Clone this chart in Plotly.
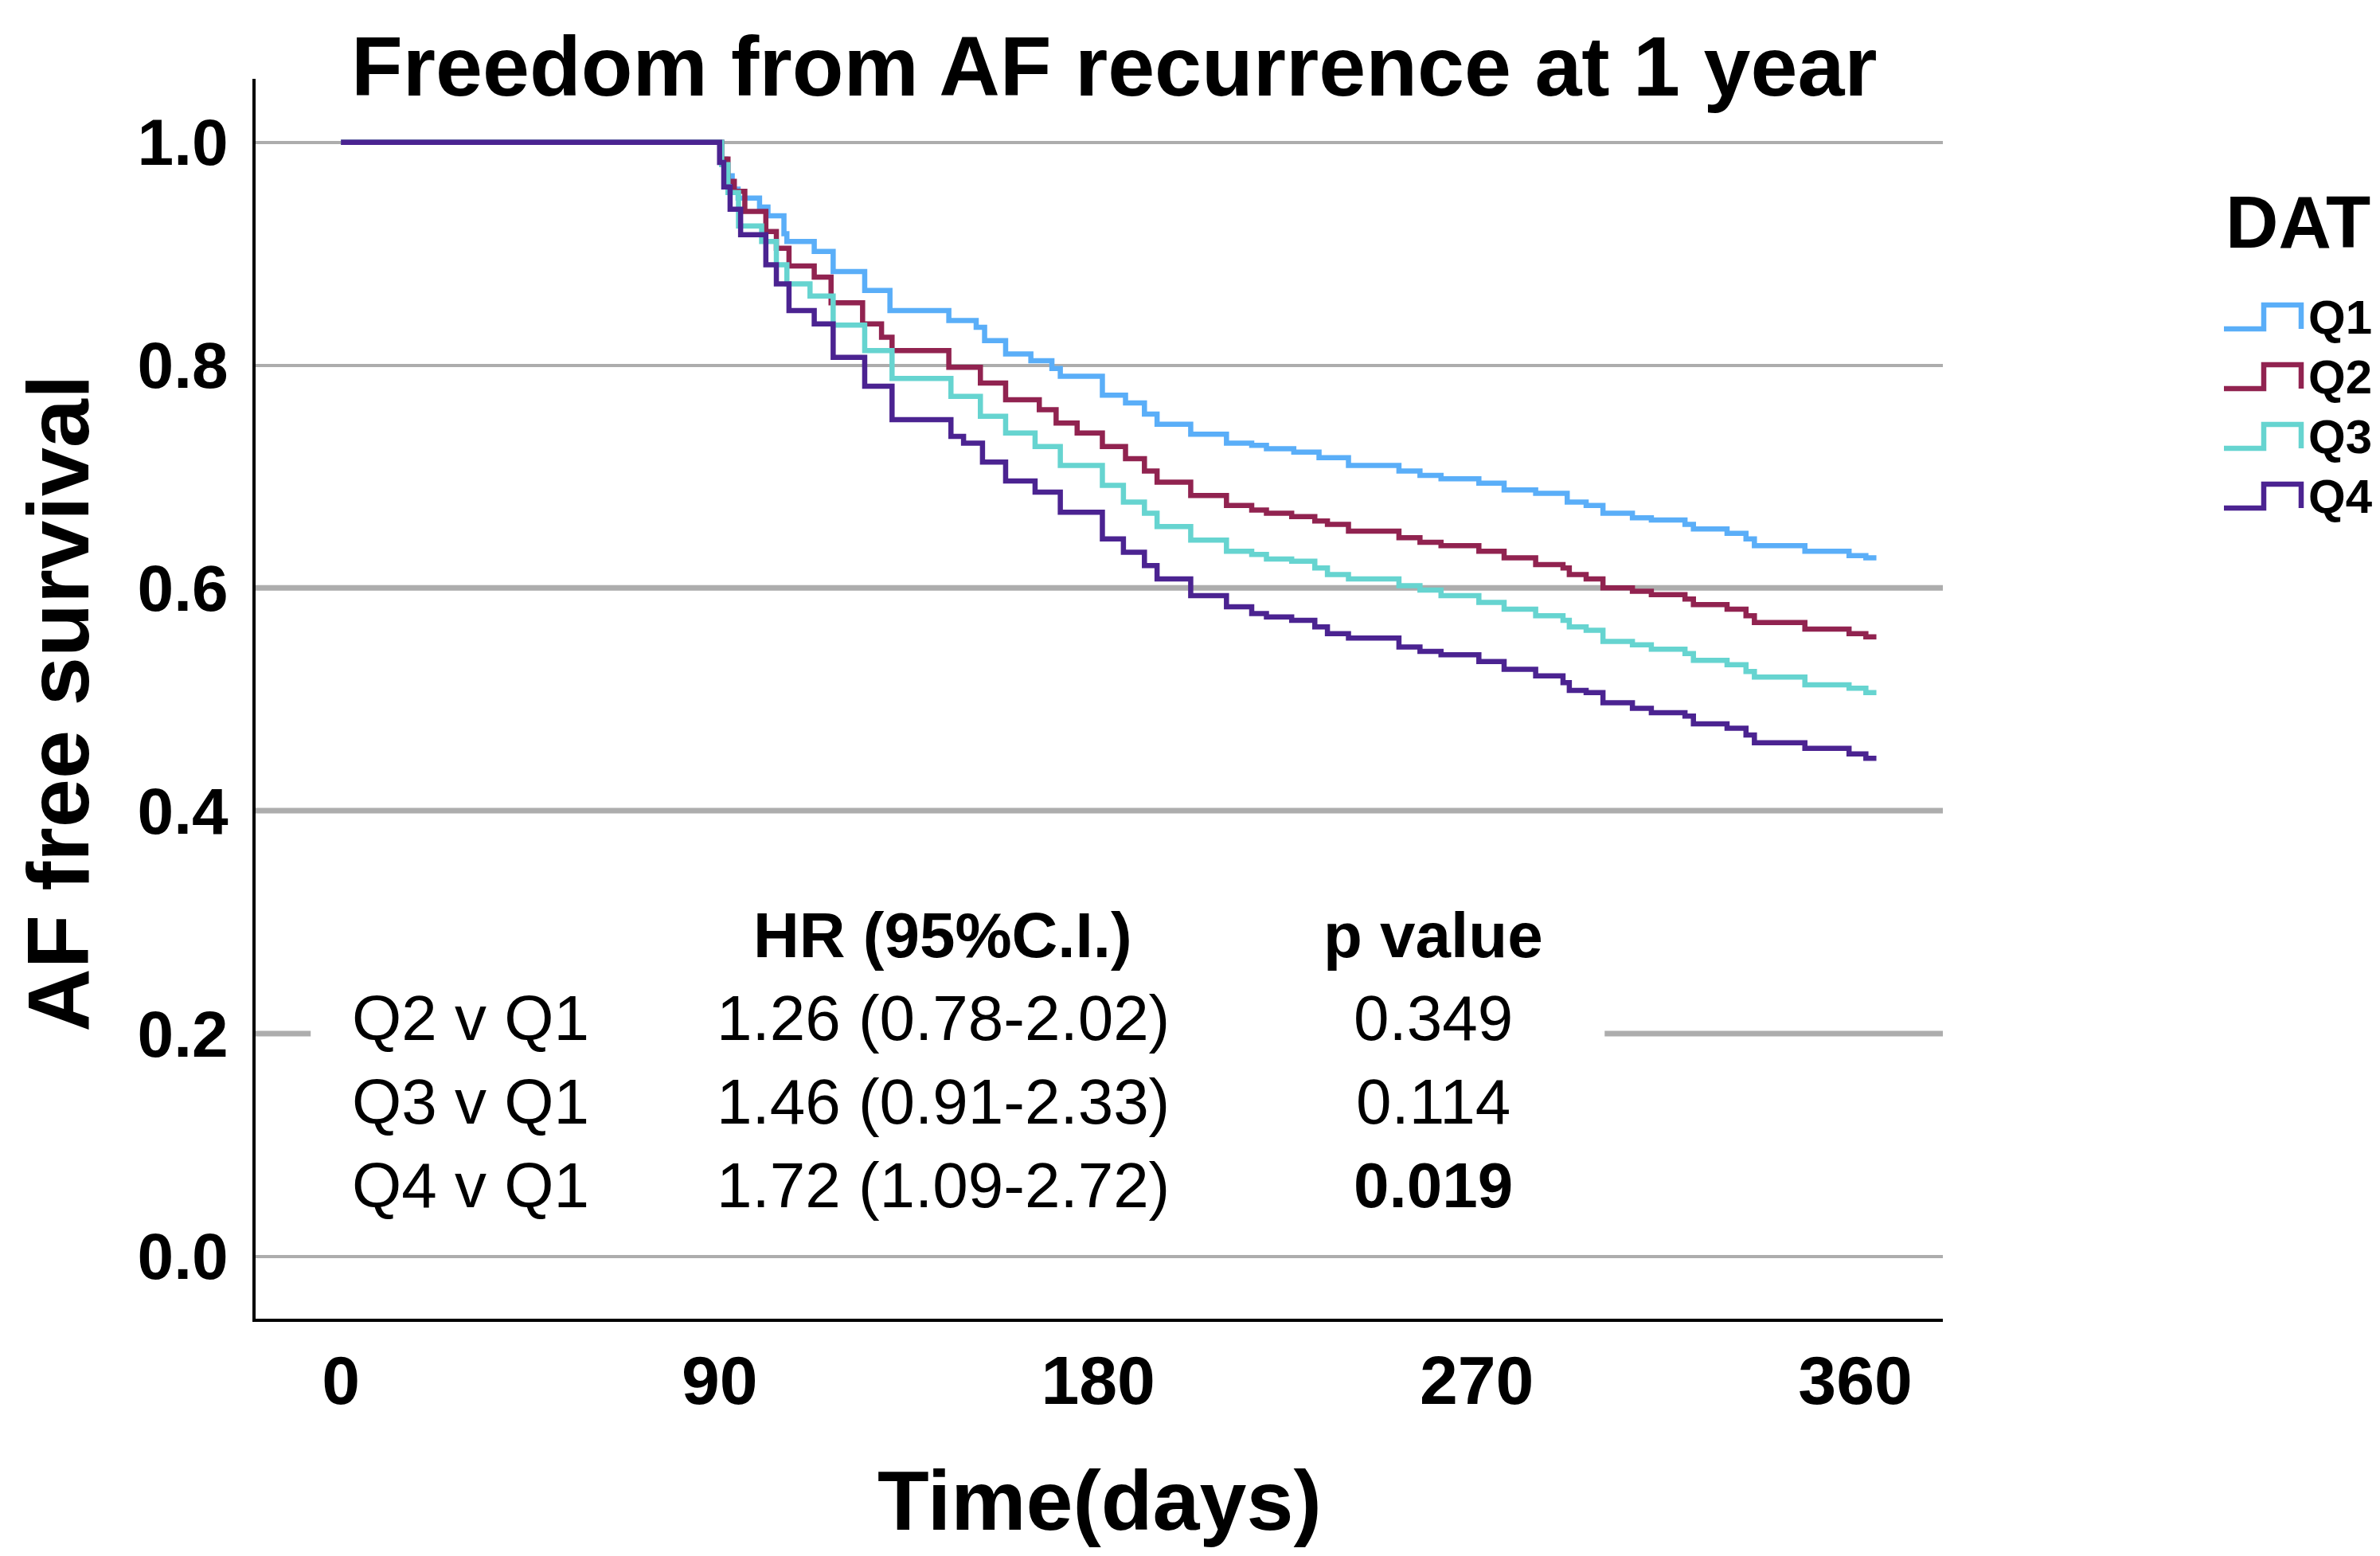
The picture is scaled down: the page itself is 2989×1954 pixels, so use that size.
import plotly.graph_objects as go

# ---------------- data ----------------
groups = ["Q1", "Q2", "Q3", "Q4"]
colors = ["#5AAEF8", "#912350", "#66D4D0", "#4B2391"]

q1_days = [0, 90.5, 91.5, 93, 94.4, 99.5, 101.5, 105.3, 106, 112.5, 117, 124.5, 130.5, 144.5, 151,
           153, 158, 164, 169, 171, 181, 186.5, 191, 194, 202, 210.5, 216.5, 220, 226.5, 232.5,
           239.5, 251.5, 256.5, 261.5, 270.5, 276.5, 284, 291.5, 296, 300, 307, 311.5, 319.5, 321.5,
           329.5, 334, 336, 348, 358.5, 362.5, 365]
q1_surv = [1.0, 0.985, 0.97, 0.958, 0.950, 0.942, 0.934, 0.918, 0.911, 0.902, 0.884, 0.867, 0.849, 0.840, 0.834,
           0.822, 0.810, 0.804, 0.797, 0.790, 0.773, 0.766, 0.756, 0.747, 0.738, 0.730, 0.728, 0.725, 0.722, 0.717,
           0.710, 0.705, 0.701, 0.698, 0.694, 0.688, 0.685, 0.677, 0.674, 0.667, 0.663, 0.661, 0.657, 0.653,
           0.649, 0.644, 0.638, 0.633, 0.629, 0.627, 0.627]

q2_days = [0, 90.5, 92, 93.5, 96, 101, 103.5, 106.5, 112.5, 116.5, 124, 128.5, 131, 144.5, 152,
           158, 166, 170, 175, 181, 186.5, 191, 194, 202, 210.5, 216.5, 220, 226, 231.5, 234.5,
           239.5, 251.5, 256.5, 261.5, 270.5, 276.5, 284, 290.5, 292, 296, 300, 307, 311.5, 319.5, 321.5,
           329.5, 334, 336, 348, 358.5, 362.5, 365]
q2_surv = [1.0, 0.985, 0.965, 0.956, 0.938, 0.92, 0.905, 0.889, 0.879, 0.856, 0.837, 0.825, 0.813, 0.798, 0.784,
           0.769, 0.760, 0.748, 0.739, 0.727, 0.716, 0.705, 0.695, 0.683, 0.674, 0.670, 0.667, 0.664, 0.660, 0.657,
           0.651, 0.645, 0.641, 0.638, 0.633, 0.627, 0.621, 0.618, 0.612, 0.608, 0.600, 0.597, 0.594, 0.590, 0.585,
           0.581, 0.575, 0.569, 0.563, 0.559, 0.556, 0.556]

q3_days = [0, 90.5, 92, 94.5, 100, 103.5, 106, 111.5, 117, 124.5, 131, 145, 152, 158, 165,
           171, 181, 186, 191, 194, 202, 210.5, 216.5, 220, 226, 231.5, 234.5, 239.5, 251.5, 256.5,
           261.5, 270.5, 276.5, 284, 290.5, 292, 296, 300, 307, 311.5, 319.5, 321.5, 329.5, 334, 336,
           348, 358.5, 362.5, 365]
q3_surv = [1.0, 0.98, 0.955, 0.925, 0.911, 0.89, 0.873, 0.862, 0.836, 0.813, 0.788, 0.772, 0.754, 0.739, 0.727,
           0.71, 0.692, 0.677, 0.667, 0.655, 0.643, 0.633, 0.630, 0.626, 0.624, 0.618, 0.612, 0.608, 0.602, 0.598,
           0.593, 0.587, 0.581, 0.575, 0.571, 0.565, 0.562, 0.552, 0.549, 0.545, 0.541, 0.535, 0.531, 0.525, 0.520,
           0.513, 0.510, 0.506, 0.506]

q4_days = [0, 90, 91, 92.5, 95, 101, 103.5, 106.5, 112.5, 117, 124.5, 131, 145, 148, 152.5,
           158, 165, 171, 181, 186, 191, 194, 202, 210.5, 216.5, 220, 226, 231.5, 234.5, 239.5,
           251.5, 256.5, 261.5, 270.5, 276.5, 284, 290.5, 292, 296, 300, 307, 311.5, 319.5, 321.5, 329.5,
           334, 336, 348, 358.5, 362.5, 365]
q4_surv = [1.0, 0.982, 0.96, 0.94, 0.917, 0.89, 0.873, 0.849, 0.837, 0.807, 0.781, 0.751, 0.736, 0.730, 0.713,
           0.696, 0.686, 0.668, 0.644, 0.632, 0.620, 0.608, 0.593, 0.583, 0.577, 0.574, 0.571, 0.565, 0.559, 0.555,
           0.547, 0.543, 0.540, 0.534, 0.527, 0.521, 0.515, 0.508, 0.506, 0.497, 0.492, 0.488, 0.485, 0.478, 0.474,
           0.468, 0.461, 0.456, 0.451, 0.447, 0.447]

x_ticks = [0, 90, 180, 270, 360]
y_ticks = [0.0, 0.2, 0.4, 0.6, 0.8, 1.0]
y_tick_labels = ["0.0", "0.2", "0.4", "0.6", "0.8", "1.0"]
thick_grid = [0.2, 0.4, 0.6]

table_header = ["HR (95%C.I.)", "p value"]
comparisons = ["Q2 v Q1", "Q3 v Q1", "Q4 v Q1"]
hazard_ratios = ["1.26 (0.78-2.02)", "1.46 (0.91-2.33)", "1.72 (1.09-2.72)"]
p_values = ["0.349", "0.114", "0.019"]
p_bold = [False, False, True]

title_text = "Freedom from AF recurrence at 1 year"
x_title = "Time(days)"
y_title = "AF free survival"
legend_title = "DAT"

# ---------------- figure ----------------
FONT = "Liberation Sans, Arial, sans-serif"
W, H = 2989, 1954
ML, MR, MT, MB = 321, 549, 99, 298
PW, PH = W - ML - MR, H - MT - MB


def px_to_paper_x(px):
    return (px - ML) / PW


def px_to_paper_y(py):
    return (H - MB - py) / PH


series_days = [q1_days, q2_days, q3_days, q4_days]
series_surv = [q1_surv, q2_surv, q3_surv, q4_surv]

fig = go.Figure()
for name, col, d, s in zip(groups, colors, series_days, series_surv):
    fig.add_trace(go.Scatter(
        x=d, y=s, mode="lines", name=name, showlegend=False,
        line=dict(color=col, width=6.5, shape="hv"),
    ))

GRID = "#ADADAD"
shapes = []
for g in thick_grid:
    shapes.append(dict(type="line", xref="paper", yref="y", x0=0, x1=1, y0=g, y1=g,
                       line=dict(color=GRID, width=7), layer="between"))
# white box behind the table text
shapes.append(dict(type="rect", xref="x", yref="y", x0=-7.2, x1=300.4, y0=0.03, y1=0.35,
                   fillcolor="white", line=dict(width=0), layer="between"))

annotations = []
# title
annotations.append(dict(text=f"<b>{title_text}</b>", xref="paper", yref="paper", x=0.509, y=1.01,
                        xanchor="center", yanchor="middle", showarrow=False,
                        font=dict(family=FONT, size=106, color="black")))
# axis titles
annotations.append(dict(text=f"<b>{x_title}</b>", xref="paper", yref="paper", x=0.5, y=-0.1464,
                        xanchor="center", yanchor="middle", showarrow=False,
                        font=dict(family=FONT, size=106, color="black")))
annotations.append(dict(text=f"<b>{y_title}</b>", xref="paper", yref="paper", x=-0.117, y=0.496,
                        xanchor="center", yanchor="middle", showarrow=False, textangle=-90,
                        font=dict(family=FONT, size=110, color="black")))

# table
col_label_x, col_hr_x, col_p_x = 2.3, 143.1, 259.7
header_y = 0.288
row_y = [0.214, 0.139, 0.064]
tfont = dict(family=FONT, size=80, color="black")
annotations.append(dict(text=f"<b>{table_header[0]}</b>", x=col_hr_x, y=header_y, xref="x", yref="y",
                        xanchor="center", yanchor="middle", showarrow=False, font=tfont))
annotations.append(dict(text=f"<b>{table_header[1]}</b>", x=col_p_x, y=header_y, xref="x", yref="y",
                        xanchor="center", yanchor="middle", showarrow=False, font=tfont))
for lab, hr, pv, pb, yy in zip(comparisons, hazard_ratios, p_values, p_bold, row_y):
    annotations.append(dict(text=lab, x=col_label_x, y=yy, xref="x", yref="y",
                            xanchor="left", yanchor="middle", showarrow=False, font=tfont))
    annotations.append(dict(text=hr, x=col_hr_x, y=yy, xref="x", yref="y",
                            xanchor="center", yanchor="middle", showarrow=False, font=tfont))
    annotations.append(dict(text=(f"<b>{pv}</b>" if pb else pv), x=col_p_x, y=yy, xref="x", yref="y",
                            xanchor="center", yanchor="middle", showarrow=False, font=tfont))

# legend (step-shaped keys like the SPSS survival legend)
LEG_ICON_X0, LEG_ICON_XM, LEG_ICON_X1 = 2793, 2843, 2890
LEG_TEXT_X = 2897
LEG_FIRST_Y, LEG_STEP, LEG_HALF = 398, 75, 15
annotations.append(dict(text=f"<b>{legend_title}</b>", xref="paper", yref="paper",
                        x=px_to_paper_x(2793), y=px_to_paper_y(279),
                        xanchor="left", yanchor="middle", showarrow=False,
                        font=dict(family=FONT, size=92, color="black")))
for i, (name, col) in enumerate(zip(groups, colors)):
    cy = LEG_FIRST_Y + i * LEG_STEP
    xa, xm, xb = px_to_paper_x(LEG_ICON_X0), px_to_paper_x(LEG_ICON_XM), px_to_paper_x(LEG_ICON_X1)
    ylo, yhi = px_to_paper_y(cy + LEG_HALF), px_to_paper_y(cy - LEG_HALF)
    shapes.append(dict(type="path", xref="paper", yref="paper",
                       path=f"M {xa},{ylo} L {xm},{ylo} L {xm},{yhi} L {xb},{yhi} L {xb},{ylo}",
                       line=dict(color=col, width=6.5), layer="above"))
    annotations.append(dict(text=f"<b>{name}</b>", xref="paper", yref="paper",
                            x=px_to_paper_x(LEG_TEXT_X), y=px_to_paper_y(cy),
                            xanchor="left", yanchor="middle", showarrow=False,
                            font=dict(family=FONT, size=60, color="black")))

fig.update_layout(
    width=W, height=H,
    margin=dict(l=ML, r=MR, t=MT, b=MB, autoexpand=False),
    paper_bgcolor="white", plot_bgcolor="white",
    font=dict(family=FONT, color="black"),
    showlegend=False,
    xaxis=dict(
        range=[-20.3, 380.8], tickmode="array", tickvals=x_ticks,
        ticktext=[f"<b>{v}</b>" for v in x_ticks],
        tickfont=dict(family=FONT, size=86, color="black"),
        showgrid=False, zeroline=False,
        showline=True, linecolor="black", linewidth=4,
        ticks="", ticklabelstandoff=0,
    ),
    yaxis=dict(
        range=[-0.056, 1.057], tickmode="array", tickvals=y_ticks,
        ticktext=[f"<b>{t}</b>" for t in y_tick_labels],
        tickfont=dict(family=FONT, size=82, color="black"),
        showgrid=True, gridcolor=GRID, gridwidth=3.5, zeroline=False,
        showline=True, linecolor="black", linewidth=4,
        ticks="", ticklabelstandoff=14,
    ),
    shapes=shapes,
    annotations=annotations,
)

fig.write_html("out.html", config={"displayModeBar": False},
               post_script="document.body.style.margin='0';document.body.style.overflow='hidden';")
